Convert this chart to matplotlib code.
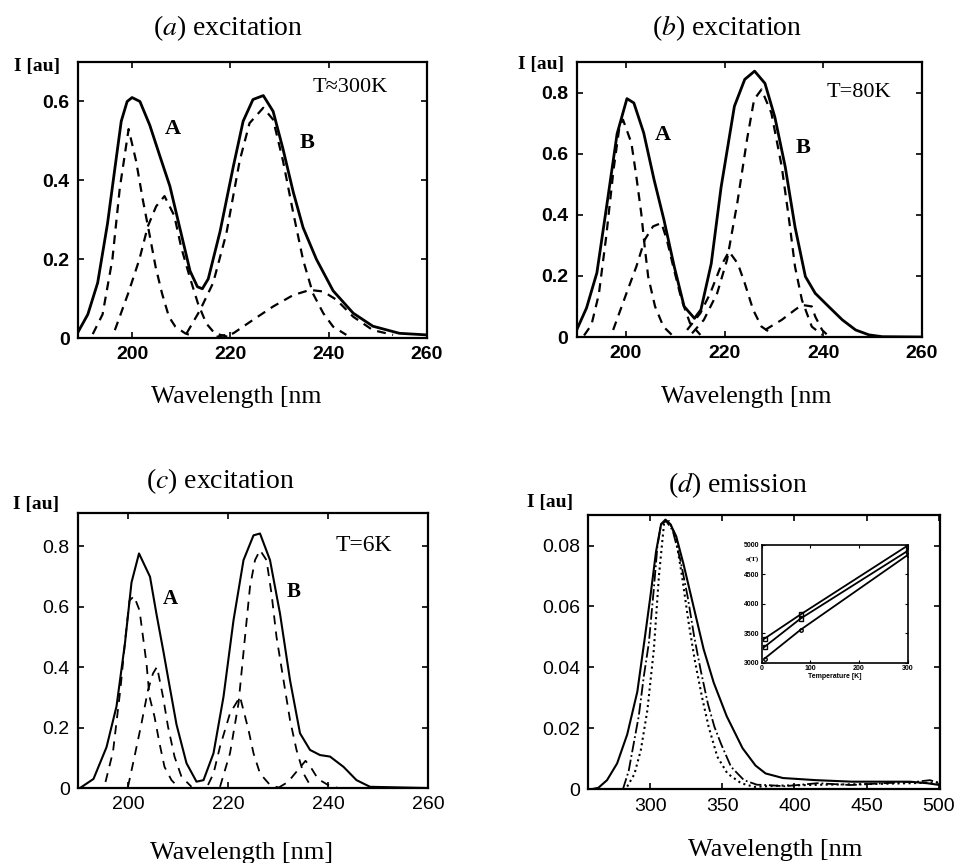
import matplotlib
matplotlib.use("Agg")
import matplotlib.pyplot as plt

# ---- panel (a): excitation, T=300K ----
a_total_wl = [189.0, 191.0, 193.0, 195.0, 196.5, 197.8, 199.0, 200.0, 201.6, 203.6, 205.7, 207.7, 209.7,
              211.8, 213.3, 214.3, 215.5, 217.9, 220.6, 222.6, 224.6, 226.7, 228.7, 230.7, 232.8, 234.8,
              237.5, 240.9, 245.0, 249.0, 254.4, 259.9]
a_total_i = [0.015, 0.06, 0.14, 0.29, 0.43, 0.55, 0.60, 0.61, 0.60, 0.54, 0.46, 0.385, 0.28,
             0.17, 0.13, 0.125, 0.15, 0.27, 0.435, 0.55, 0.605, 0.615, 0.575, 0.48, 0.37, 0.28,
             0.20, 0.12, 0.063, 0.03, 0.012, 0.008]
a_A1_wl = [192.0, 194.0, 196.0, 197.5, 199.3, 200.8, 202.2, 203.5, 204.8, 206.1, 207.5, 208.8, 210.8, 212.8]
a_A1_i = [0.01, 0.06, 0.2, 0.38, 0.53, 0.45, 0.35, 0.266, 0.18, 0.113, 0.054, 0.029, 0.012, 0.003]
a_A2_wl = [196.5, 199.2, 201.5, 203.2, 204.9, 206.6, 208.6, 210.0, 211.7, 213.4, 215.1, 216.8, 219.5]
a_A2_i = [0.02, 0.113, 0.2, 0.283, 0.334, 0.36, 0.31, 0.23, 0.156, 0.088, 0.037, 0.012, 0.003]
a_B1_wl = [211.1, 213.8, 216.5, 219.2, 221.9, 223.9, 226.7, 228.7, 230.7, 232.8, 234.8, 236.8, 238.9,
           240.9, 243.6]
a_B1_i = [0.012, 0.07, 0.14, 0.266, 0.45, 0.545, 0.584, 0.554, 0.45, 0.317, 0.198, 0.113, 0.063,
          0.029, 0.008]
a_B2_wl = [217.2, 220.6, 224.6, 228.7, 232.8, 236.2, 238.9, 241.6, 245.0, 249.0, 253.1]
a_B2_i = [0.003, 0.012, 0.046, 0.08, 0.109, 0.122, 0.118, 0.097, 0.054, 0.02, 0.008]

# ---- panel (b): excitation, T=80K ----
b_total_wl = [190.0, 192.0, 194.1, 196.1, 198.2, 200.2, 201.6, 203.6, 205.7, 207.7, 209.8, 211.8, 213.9,
              215.2, 217.3, 219.3, 222.0, 224.1, 226.1, 228.2, 230.2, 232.3, 234.3, 236.4, 238.4, 241.1,
              243.9, 246.6, 249.3, 252.0, 260.0]
b_total_i = [0.023, 0.095, 0.21, 0.43, 0.665, 0.78, 0.766, 0.668, 0.515, 0.384, 0.23, 0.1, 0.061,
             0.089, 0.24, 0.49, 0.755, 0.843, 0.87, 0.83, 0.72, 0.558, 0.36, 0.198, 0.143, 0.1,
             0.056, 0.023, 0.007, 0.001, 0.0]
b_A1_wl = [191.5, 193.0, 194.5, 196.0, 197.5, 198.7, 199.4, 201.1, 202.1, 203.1, 203.8, 204.5, 205.9,
           207.6, 209.3]
b_A1_i = [0.005, 0.04, 0.14, 0.33, 0.55, 0.69, 0.711, 0.635, 0.526, 0.405, 0.296, 0.198, 0.1,
          0.034, 0.007]
b_A2_wl = [197.4, 200.1, 202.1, 203.8, 205.5, 207.2, 208.3, 209.6, 211.3, 213.0, 215.1]
b_A2_i = [0.023, 0.143, 0.23, 0.318, 0.362, 0.373, 0.318, 0.23, 0.121, 0.045, 0.007]
b_B0_wl = [212.4, 215.1, 217.1, 219.2, 220.9, 222.7, 224.1, 225.8, 227.5, 229.5]
b_B0_i = [0.023, 0.078, 0.143, 0.23, 0.28, 0.24, 0.176, 0.089, 0.034, 0.012]
b_B1_wl = [213.4, 215.8, 218.5, 220.5, 222.6, 224.6, 226.0, 227.5, 229.5, 231.6, 233.0, 234.3, 235.7,
           237.7, 239.8]
b_B1_i = [0.012, 0.056, 0.143, 0.252, 0.44, 0.65, 0.777, 0.81, 0.733, 0.558, 0.395, 0.23, 0.121,
          0.034, 0.007]
b_B2_wl = [228.2, 231.6, 234.3, 235.7, 237.7, 238.4, 239.8, 241.1]
b_B2_i = [0.023, 0.056, 0.089, 0.105, 0.1, 0.067, 0.023, 0.003]

# ---- panel (c): excitation, T=6K ----
c_total_wl = [190.4, 193.1, 195.7, 197.7, 199.4, 200.7, 202.2, 204.4, 205.7, 207.1, 208.1, 209.7, 211.7,
              213.7, 215.1, 217.1, 219.1, 221.1, 223.1, 225.1, 226.4, 228.4, 230.4, 232.4, 234.4, 236.4,
              238.4, 240.4, 243.1, 245.7, 248.4, 259.7]
c_total_i = [0.0, 0.03, 0.135, 0.27, 0.48, 0.68, 0.776, 0.699, 0.575, 0.45, 0.357, 0.21, 0.082,
             0.021, 0.026, 0.115, 0.302, 0.555, 0.754, 0.836, 0.842, 0.754, 0.577, 0.357, 0.181, 0.126,
             0.109, 0.104, 0.07, 0.026, 0.004, 0.0]
c_A1_wl = [195.5, 197.0, 198.5, 199.5, 200.3, 201.2, 202.3, 203.0, 203.7, 204.3, 205.3, 206.3, 207.3,
           208.7, 210.0]
c_A1_i = [0.02, 0.12, 0.33, 0.5, 0.62, 0.635, 0.588, 0.5, 0.412, 0.302, 0.236, 0.148, 0.07,
          0.026, 0.004]
c_A2_wl = [200.0, 201.3, 202.7, 204.0, 205.0, 205.8, 207.0, 208.0, 209.3, 210.7, 212.7]
c_A2_i = [0.004, 0.104, 0.214, 0.324, 0.379, 0.401, 0.302, 0.203, 0.104, 0.037, 0.004]
c_B0_wl = [216.0, 217.1, 218.4, 220.4, 222.4, 224.1, 225.1, 226.4, 228.4, 230.4]
c_B0_i = [0.01, 0.048, 0.137, 0.247, 0.302, 0.192, 0.115, 0.048, 0.01, 0.0]
c_B1_wl = [218.4, 220.4, 222.1, 223.4, 224.4, 225.4, 226.4, 227.7, 228.7, 229.7, 231.1, 232.4, 233.7,
           235.1, 236.4]
c_B1_i = [0.004, 0.115, 0.28, 0.5, 0.666, 0.754, 0.787, 0.754, 0.643, 0.5, 0.357, 0.225, 0.126,
          0.048, 0.01]
c_B2_wl = [230.0, 232.0, 234.0, 235.5, 236.5, 238.0, 240.0, 242.0]
c_B2_i = [0.0, 0.02, 0.06, 0.09, 0.07, 0.03, 0.01, 0.0]

# ---- panel (d): emission ----
d_solid_wl = [259, 264, 270, 277, 284, 291, 296, 300, 304, 307.5, 310.5, 314, 318, 323, 330, 337, 344,
              353, 364, 373, 380, 392, 415, 440, 462, 480, 492, 501]
d_solid_i = [0.0, 0.0005, 0.003, 0.0085, 0.018, 0.032, 0.049, 0.063, 0.078, 0.087, 0.0885, 0.087, 0.083,
             0.074, 0.06, 0.046, 0.035, 0.024, 0.0135, 0.0078, 0.0052, 0.0037, 0.003, 0.0025, 0.0025,
             0.0025, 0.002, 0.0014]
d_dashdot_wl = [281, 285, 288.5, 292, 295.5, 299, 302.5, 305, 307.5, 311, 315.5, 321, 326, 330.5, 335,
                340, 344.5, 349, 356, 365, 374, 381, 393, 416, 439, 462, 485, 494, 501]
d_dashdot_i = [0.0, 0.006, 0.015, 0.024, 0.037, 0.048, 0.066, 0.08, 0.087, 0.088, 0.085, 0.075, 0.063,
               0.05, 0.039, 0.028, 0.0205, 0.015, 0.0074, 0.003, 0.0015, 0.0014, 0.001, 0.002, 0.0014,
               0.002, 0.0025, 0.003, 0.002]
d_dotted_wl = [284, 289, 293.5, 298, 302.5, 306, 309.5, 313, 317.5, 322, 326.5, 331, 336, 340.5, 346.5,
               353.5, 363, 372, 390, 420, 460, 500]
d_dotted_i = [0.0009, 0.005, 0.013, 0.026, 0.046, 0.07, 0.087, 0.088, 0.083, 0.07, 0.055, 0.042, 0.03,
              0.0205, 0.0107, 0.0052, 0.002, 0.0008, 0.0012, 0.0015, 0.0018, 0.0022]

# inset: width vs temperature
inset_T = [6, 80, 300]
inset_upper = [3410, 3820, 4990]
inset_middle = [3270, 3750, 4900]
inset_lower = [3070, 3560, 4830]

serif = "Liberation Serif"
sans = "Liberation Sans"


def style_axes(ax, xlim, ylim, xticks, yticks, ylabels, weight):
    ax.set_xlim(*xlim)
    ax.set_ylim(*ylim)
    ax.set_xticks(xticks)
    ax.set_yticks(yticks)
    ax.set_xticklabels([str(t) for t in xticks], fontfamily=sans, fontsize=14, fontweight=weight)
    ax.set_yticklabels(ylabels, fontfamily=sans, fontsize=14, fontweight=weight)
    ax.tick_params(direction="in", top=True, right=True, length=4, width=1.2, pad=6)
    for s in ax.spines.values():
        s.set_linewidth(1.6)


fig = plt.figure(figsize=(9.6, 8.63), dpi=100)

# (a)
ax = fig.add_axes([0.08125, 0.6083, 0.3635, 0.3198])
ax.plot(a_total_wl, a_total_i, "k-", lw=2.0)
for wl, val in [(a_A1_wl, a_A1_i), (a_A2_wl, a_A2_i), (a_B1_wl, a_B1_i), (a_B2_wl, a_B2_i)]:
    ax.plot(wl, val, "k--", lw=1.6, dashes=(4, 3))
style_axes(ax, (189, 260), (0, 0.70), [200, 220, 240, 260], [0, 0.2, 0.4, 0.6],
           ["0", "0.2", "0.4", "0.6"], "bold")
ax.text(208.3, 0.53, "A", fontfamily=serif, fontsize=16, fontweight="bold", ha="center", va="center")
ax.text(235.7, 0.495, "B", fontfamily=serif, fontsize=16, fontweight="bold", ha="center", va="center")
ax.text(244.3, 0.635, "T≈300K", fontfamily=serif, fontsize=16, ha="center", va="center")

# (b)
ax = fig.add_axes([0.6007, 0.6095, 0.3594, 0.3187])
ax.plot(b_total_wl, b_total_i, "k-", lw=2.0)
for wl, val in [(b_A1_wl, b_A1_i), (b_A2_wl, b_A2_i), (b_B0_wl, b_B0_i), (b_B1_wl, b_B1_i),
                (b_B2_wl, b_B2_i)]:
    ax.plot(wl, val, "k--", lw=1.6, dashes=(4, 3))
style_axes(ax, (190, 260), (0, 0.90), [200, 220, 240, 260], [0, 0.2, 0.4, 0.6, 0.8],
           ["0", "0.2", "0.4", "0.6", "0.8"], "bold")
ax.text(207.4, 0.662, "A", fontfamily=serif, fontsize=16, fontweight="bold", ha="center", va="center")
ax.text(236.0, 0.62, "B", fontfamily=serif, fontsize=16, fontweight="bold", ha="center", va="center")
ax.text(247.3, 0.80, "T=80K", fontfamily=serif, fontsize=16, ha="center", va="center")

# (c)
ax = fig.add_axes([0.08125, 0.0869, 0.3646, 0.3187])
ax.plot(c_total_wl, c_total_i, "k-", lw=1.5)
for wl, val in [(c_A1_wl, c_A1_i), (c_A2_wl, c_A2_i), (c_B0_wl, c_B0_i), (c_B1_wl, c_B1_i),
                (c_B2_wl, c_B2_i)]:
    ax.plot(wl, val, "k--", lw=1.3, dashes=(5, 4))
style_axes(ax, (190, 260), (0, 0.91), [200, 220, 240, 260], [0, 0.2, 0.4, 0.6, 0.8],
           ["0", "0.2", "0.4", "0.6", "0.8"], "normal")
ax.text(208.4, 0.627, "A", fontfamily=serif, fontsize=15, fontweight="bold", ha="center", va="center")
ax.text(233.1, 0.649, "B", fontfamily=serif, fontsize=15, fontweight="bold", ha="center", va="center")
ax.text(247.1, 0.803, "T=6K", fontfamily=serif, fontsize=17, ha="center", va="center")

# (d)
ax = fig.add_axes([0.6128, 0.0854, 0.3664, 0.3178])
ax.plot(d_solid_wl, d_solid_i, "k-", lw=1.5)
ax.plot(d_dashdot_wl, d_dashdot_i, "k-.", lw=1.3)
ax.plot(d_dotted_wl, d_dotted_i, "k:", lw=1.5)
style_axes(ax, (257, 501), (0, 0.09), [300, 350, 400, 450, 500], [0, 0.02, 0.04, 0.06, 0.08],
           ["0", "0.02", "0.04", "0.06", "0.08"], "normal")

ins = fig.add_axes([0.7934, 0.2321, 0.1521, 0.1364])
ins.plot(inset_T, inset_upper, "k-", lw=1.3, marker="s", ms=2.5, mfc="none")
ins.plot(inset_T, inset_middle, "k-", lw=1.3, marker="s", ms=2.5, mfc="none")
ins.plot(inset_T, inset_lower, "k-", lw=1.3, marker="o", ms=2.5, mfc="none")
ins.set_xlim(0, 300)
ins.set_ylim(3000, 5000)
ins.set_xticks([0, 100, 200, 300])
ins.set_yticks([3000, 3500, 4000, 4500, 5000])
ins.set_xticklabels(["0", "100", "200", "300"], fontfamily=sans, fontsize=5, fontweight="bold")
ins.set_yticklabels(["3000", "3500", "4000", "4500", "5000"], fontfamily=sans, fontsize=5,
                    fontweight="bold")
ins.tick_params(direction="in", top=True, right=True, length=2, width=0.8, pad=1.5)
ins.set_xlabel("Temperature [K]", fontfamily=sans, fontsize=5, fontweight="bold", labelpad=1)
ins.text(-0.02, 0.88, "σ(T)", transform=ins.transAxes, fontfamily=serif, fontsize=5,
         fontweight="bold", ha="right", va="center")
for s in ins.spines.values():
    s.set_linewidth(1.2)

# titles, axis labels
titles = [("a", " excitation", 0.2375, 0.9676), ("b", " excitation", 0.757, 0.9676),
          ("c", " excitation", 0.230, 0.442), ("d", " emission", 0.768, 0.438)]
for letter, rest, x, y in titles:
    fig.text(x, y, "($\\it{" + letter + "}$)" + rest, fontfamily=serif,
             fontsize=20, ha="center", va="center", math_fontfamily="stix")

xlabels = [("Wavelength [nm", 0.246, 0.540, 18.5), ("Wavelength [nm", 0.777, 0.540, 18.5),
           ("Wavelength [nm]", 0.2517, 0.0116, 19), ("Wavelength [nm", 0.807, 0.015, 19)]
for txt, x, y, fs in xlabels:
    fig.text(x, y, txt, fontfamily=serif, fontsize=fs, ha="center", va="center")

ylabels = [(0.039, 1 - 67 / 863), (0.5635, 1 - 65 / 863), (0.038, 1 - 505 / 863), (0.573, 1 - 502 / 863)]
for x, y in ylabels:
    fig.text(x, y, "I [au]", fontfamily=serif, fontsize=14, fontweight="bold", ha="center", va="center")

fig.savefig("out.png", dpi=100)
